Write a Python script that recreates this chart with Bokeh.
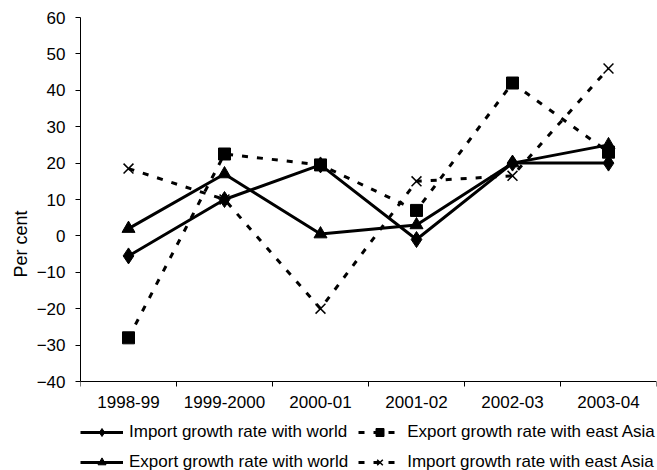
from bokeh.plotting import figure
from bokeh.models import Range1d, FixedTicker, Legend, LegendItem
from bokeh.embed import file_html
from bokeh.resources import INLINE

years = ["1998-99", "1999-2000", "2000-01", "2001-02", "2002-03", "2003-04"]
import_world = [-5.5, 10, 19.5, -1, 20, 20]
export_world = [2, 17, 0.5, 3, 20, 25]
export_east_asia = [-28, 22.5, 19.5, 7, 42, 23]
import_east_asia = [18.5, 10, -20, 15, 16.5, 46]

y_ticks = [-40, -30, -20, -10, 0, 10, 20, 30, 40, 50, 60]
y_tick_labels = ["\u221240", "\u221230", "\u221220", "\u221210", "0", "10", "20", "30", "40", "50", "60"]
y_min, y_max = -40, 60

FONT = "Liberation Sans"

xs = [i + 0.5 for i in range(len(years))]
bounds = list(range(len(years) + 1))

# frame extends to the bottom of the figure so that the legend can sit under the axis;
# the x axis is pinned at y = -40
y_view_min = -64.45

p = figure(width=657, height=470, output_backend="svg", toolbar_location=None,
           x_range=Range1d(0, len(years)), y_range=Range1d(y_view_min, y_max),
           min_border_left=80, min_border_right=1, min_border_top=17, min_border_bottom=0)
p.outline_line_color = None
p.grid.visible = False
p.background_fill_color = "white"

# x axis
xa = p.xaxis[0]
xa.fixed_location = y_min
xa.ticker = FixedTicker(ticks=xs, minor_ticks=bounds)
xa.major_label_overrides = {x: lab for x, lab in zip(xs, years)}
xa.major_tick_out = 0
xa.major_tick_in = 0
xa.minor_tick_out = 5
xa.minor_tick_in = 0
xa.minor_tick_line_color = "black"
xa.axis_line_color = "black"
xa.major_label_standoff = 9
xa.major_label_text_font = FONT
xa.major_label_text_font_size = "17px"
xa.major_label_text_color = "black"

# y axis
ya = p.yaxis[0]
ya.bounds = (y_min, y_max)
ya.ticker = FixedTicker(ticks=y_ticks, minor_ticks=[])
ya.major_label_overrides = {t: lab for t, lab in zip(y_ticks, y_tick_labels)}
ya.major_tick_out = 5
ya.major_tick_in = 0
ya.minor_tick_out = 0
ya.major_tick_line_color = "black"
ya.axis_line_color = "black"
ya.major_label_standoff = 10
ya.major_label_text_font = FONT
ya.major_label_text_font_size = "17px"
ya.major_label_text_color = "black"
ya.axis_label = "Per cent"
ya.axis_label_text_font = FONT
ya.axis_label_text_font_size = "18px"
ya.axis_label_text_font_style = "normal"
ya.axis_label_text_color = "black"
ya.axis_label_standoff = 3

DASH = "6 9"

r1 = p.line(xs, import_world, line_color="black", line_width=3)
m1 = p.scatter(xs, import_world, marker="diamond", size=16, color="black")
r2 = p.line(xs, export_world, line_color="black", line_width=3)
m2 = p.scatter(xs, export_world, marker="triangle", size=13, color="black")
r3 = p.line(xs, export_east_asia, line_color="black", line_width=3, line_dash=DASH)
m3 = p.scatter(xs, export_east_asia, marker="square", size=12, color="black")
r4 = p.line(xs, import_east_asia, line_color="black", line_width=3, line_dash=DASH)
m4 = p.scatter(xs, import_east_asia, marker="x", size=14, line_color="black", line_width=1.5)

legend = Legend(items=[
    LegendItem(label="Import growth rate with world", renderers=[r1, m1]),
    LegendItem(label="Export growth rate with east Asia", renderers=[r3, m3]),
    LegendItem(label="Export growth rate with world", renderers=[r2, m2]),
    LegendItem(label="Import growth rate with east Asia", renderers=[r4, m4]),
], orientation="horizontal", ncols=2, location=(0, -2),
    glyph_width=43, glyph_height=20, label_height=20, label_width=219,
    label_standoff=6, spacing=10, padding=0, margin=0,
    border_line_color=None, background_fill_alpha=0,
    label_text_font=FONT, label_text_font_size="17px", label_text_color="black")
p.add_layout(legend)

open("out.html", "w").write(file_html(p, INLINE))
